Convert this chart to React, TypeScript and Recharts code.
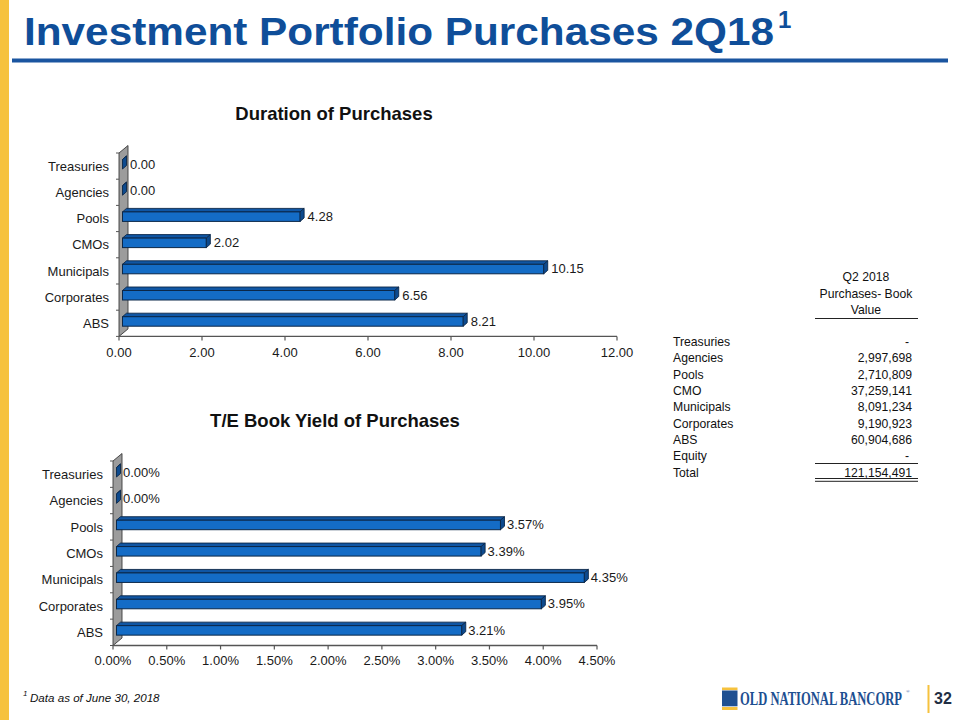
import React from 'react';
import { BarChart, Bar, XAxis, YAxis, LabelList } from 'recharts';

const categories = ['Treasuries', 'Agencies', 'Pools', 'CMOs', 'Municipals', 'Corporates', 'ABS'];
const durationValues = [0.0, 0.0, 4.28, 2.02, 10.15, 6.56, 8.21];
const yieldValues = [0.0, 0.0, 3.57, 3.39, 4.35, 3.95, 3.21];
const durationTicks = [0, 2, 4, 6, 8, 10, 12];
const yieldTicks = [0, 0.5, 1, 1.5, 2, 2.5, 3, 3.5, 4, 4.5];

const tableHeader = ['Q2 2018', 'Purchases- Book', 'Value'];
const tableLabels = ['Treasuries', 'Agencies', 'Pools', 'CMO', 'Municipals', 'Corporates', 'ABS', 'Equity'];
const tableValues = ['-', '2,997,698', '2,710,809', '37,259,141', '8,091,234', '9,190,923', '60,904,686', '-'];
const tableTotalLabel = 'Total';
const tableTotal = '121,154,491';

const durationData = categories.map((name, i) => ({ name, value: durationValues[i] }));
const yieldData = categories.map((name, i) => ({ name, value: yieldValues[i] }));

const FONT = '"Liberation Sans", Arial, Helvetica, sans-serif';
const SERIF = '"Liberation Serif", "Times New Roman", serif';
const FRONT = '#146CC6';
const TOP = '#1056A4';
const SIDE = '#0D4A8E';
const OUT = '#0B2748';
const TITLE_BLUE = '#0F4E99';
const YELLOW = '#F6C23E';

const DX = 4;
const DY = 3.5;

const Bar3D = (props: any) => {
  const { x, y, width, height } = props;
  const cy = y + height / 2;
  const fx = x + 3.5;
  const fy = cy - 6.5;
  const fh = 9.5;
  const w = Math.max(0, width || 0);
  return (
    <g>
      <polygon
        points={`${fx},${fy} ${fx + DX},${fy - DY} ${fx + w + DX},${fy - DY} ${fx + w},${fy}`}
        fill={TOP}
        stroke={OUT}
        strokeWidth={0.9}
      />
      <rect x={fx} y={fy} width={w} height={fh} fill={FRONT} stroke={OUT} strokeWidth={1} />
      <polygon
        points={`${fx + w},${fy} ${fx + w + DX},${fy - DY} ${fx + w + DX},${fy + fh - DY} ${fx + w},${fy + fh}`}
        fill={SIDE}
        stroke={OUT}
        strokeWidth={0.9}
      />
    </g>
  );
};

const makeLabel = (fmt: (v: number) => string, off: number) => (p: any) => {
  const { x, y, width, height, value } = p;
  return (
    <text
      x={x + width + off}
      y={y + height / 2 - 2 + 4.6}
      fontSize={13}
      fontFamily={FONT}
      fill="#1a1a1a"
      textAnchor="start"
    >
      {fmt(value)}
    </text>
  );
};

type ChartCfg = {
  data: { name: string; value: number }[];
  top: number;
  height: number;
  marginTop: number;
  marginLeft: number;
  marginRight: number;
  marginBottom: number;
  domain: [number, number];
  ticks: number[];
  fmt: (v: number) => string;
  labelOff: number;
  tickMargin: number;
};

const HBarChart = ({ cfg }: { cfg: ChartCfg }) => (
  <div style={{ position: 'absolute', left: 0, top: cfg.top, width: 640, height: cfg.height }}>
    <BarChart
      width={640}
      height={cfg.height}
      data={cfg.data}
      layout="vertical"
      margin={{ top: cfg.marginTop, left: cfg.marginLeft, right: cfg.marginRight, bottom: cfg.marginBottom }}
      barCategoryGap={0}
      style={{ background: 'transparent' }}
    >
      <XAxis
        type="number"
        domain={cfg.domain}
        ticks={cfg.ticks}
        interval={0}
        tickFormatter={cfg.fmt}
        height={30}
        axisLine={{ stroke: '#555', strokeWidth: 1.3 }}
        tickLine={{ stroke: '#555', strokeWidth: 1.2 }}
        tickSize={4}
        tickMargin={cfg.tickMargin}
        tick={{ fontSize: 13, fontFamily: FONT, fill: '#1a1a1a' }}
      />
      <YAxis
        type="category"
        dataKey="name"
        width={110}
        axisLine={false}
        tickLine={false}
        tickSize={0}
        tickMargin={10}
        interval={0}
        tick={{ fontSize: 13, fontFamily: FONT, fill: '#1a1a1a' }}
      />
      <Bar dataKey="value" barSize={10} shape={<Bar3D />} isAnimationActive={false}>
        <LabelList dataKey="value" content={makeLabel(cfg.fmt, cfg.labelOff) as any} />
      </Bar>
    </BarChart>
  </div>
);

// plot geometry (derived from the chart margins below)
const C1 = { left: 119, top: 153, width: 498, height: 183.4, n: categories.length };
const C2 = { left: 113, top: 461, width: 484, height: 184.5, n: categories.length };

const Wall = ({ g }: { g: typeof C1 }) => {
  const x0 = g.left;
  const yT = g.top;
  const yB = g.top + g.height;
  const wdx = 9;
  const wdy = 7.5;
  const band = g.height / g.n;
  const ticks = [];
  for (let i = 0; i <= g.n; i++) {
    const y = yT + i * band;
    ticks.push(<line key={i} x1={x0 - 3} x2={x0} y1={y} y2={y} stroke="#555" strokeWidth={1} />);
  }
  return (
    <g>
      <polygon
        points={`${x0},${yT} ${x0 + wdx},${yT - wdy} ${x0 + wdx},${yB - wdy} ${x0},${yB}`}
        fill="#9C9C9C"
        stroke="#3a3a3a"
        strokeWidth={0.9}
      />
      {ticks}
    </g>
  );
};

export default function App() {
  const cfg1: ChartCfg = {
    data: durationData,
    top: 90,
    height: 290,
    marginTop: C1.top - 90,
    marginLeft: C1.left - 110,
    marginRight: 640 - C1.left - C1.width,
    marginBottom: 290 - (C1.top - 90) - C1.height - 30,
    domain: [0, 12],
    ticks: durationTicks,
    fmt: (v: number) => v.toFixed(2),
    labelOff: 11,
    tickMargin: 7,
  };
  const cfg2: ChartCfg = {
    data: yieldData,
    top: 395,
    height: 285,
    marginTop: C2.top - 395,
    marginLeft: C2.left - 110,
    marginRight: 640 - C2.left - C2.width,
    marginBottom: 285 - (C2.top - 395) - C2.height - 30,
    domain: [0, 4.5],
    ticks: yieldTicks,
    fmt: (v: number) => v.toFixed(2) + '%',
    labelOff: 10,
    tickMargin: 6,
  };

  const rowY = (i: number) => 341.7 + i * 16.3;

  return (
    <div style={{ position: 'absolute', left: 0, top: 0, width: 960, height: 720, background: '#fff', overflow: 'hidden' }}>
      <svg width={960} height={720} style={{ position: 'absolute', left: 0, top: 0 }}>
        <rect x={0} y={0} width={9} height={720} fill={YELLOW} />
        <text
          x={24}
          y={45}
          fontSize={38}
          fontWeight="bold"
          fontFamily={FONT}
          fill={TITLE_BLUE}
          textLength={750}
          lengthAdjust="spacingAndGlyphs"
        >
          Investment Portfolio Purchases 2Q18
        </text>
        <text x={778} y={28} fontSize={24} fontWeight="bold" fontFamily={FONT} fill={TITLE_BLUE}>
          1
        </text>
        <rect x={12} y={58.5} width={936} height={4} fill="#1A55A0" />

        <text x={334} y={120} fontSize={18.5} fontWeight="bold" fontFamily={FONT} fill="#111" textAnchor="middle">
          Duration of Purchases
        </text>
        <text x={335} y={427} fontSize={18.5} fontWeight="bold" fontFamily={FONT} fill="#111" textAnchor="middle">
          T/E Book Yield of Purchases
        </text>

        <Wall g={C1} />
        <Wall g={C2} />

        {tableHeader.map((t, i) => (
          <text key={t} x={866} y={277 + i * 16.5 + 4.4} fontSize={12.2} fontFamily={FONT} fill="#111" textAnchor="middle">
            {t}
          </text>
        ))}
        <line x1={815} x2={918} y1={318.5} y2={318.5} stroke="#222" strokeWidth={1.2} />
        {tableLabels.map((t, i) => (
          <g key={t}>
            <text x={673} y={rowY(i) + 4.4} fontSize={12.2} fontFamily={FONT} fill="#111">
              {t}
            </text>
            <text
              x={tableValues[i] === '-' ? 909 : 912}
              y={rowY(i) + 4.4}
              fontSize={12.2}
              fontFamily={FONT}
              fill="#111"
              textAnchor="end"
            >
              {tableValues[i]}
            </text>
          </g>
        ))}
        <line x1={815} x2={918} y1={463.5} y2={463.5} stroke="#222" strokeWidth={1} />
        <text x={673} y={rowY(8) + 4.4} fontSize={12.2} fontFamily={FONT} fill="#111">
          {tableTotalLabel}
        </text>
        <text x={912} y={rowY(8) + 4.4} fontSize={12.2} fontFamily={FONT} fill="#111" textAnchor="end">
          {tableTotal}
        </text>
        <line x1={815} x2={918} y1={478.5} y2={478.5} stroke="#222" strokeWidth={1} />
        <line x1={815} x2={918} y1={481.3} y2={481.3} stroke="#222" strokeWidth={1} />

        <text x={23} y={696} fontSize={8} fontStyle="italic" fontFamily={FONT} fill="#111">
          1
        </text>
        <text x={30} y={702} fontSize={11.6} fontStyle="italic" fontFamily={FONT} fill="#111">
          Data as of June 30, 2018
        </text>

        <rect x={722} y={687.5} width={15.5} height={2.6} fill={YELLOW} />
        <rect x={722} y={690.5} width={15.5} height={15.8} fill="#1E4F91" />
        <rect x={722} y={707} width={15.5} height={3} fill={YELLOW} />
        <g transform="translate(740,705) scale(0.7,1)">
          <text x={0} y={0} fontSize={18} fontWeight="bold" fontFamily={SERIF} fill="#1E4F91">
            OLD NATIONAL BANCORP
          </text>
        </g>
        <text x={906} y={693} fontSize={5} fontFamily={SERIF} fill="#1E4F91">
          ®
        </text>
        <rect x={927.5} y={685} width={2} height={28} fill={YELLOW} />
        <text x={934} y={704} fontSize={16} fontWeight="bold" fontFamily={FONT} fill="#1F2E44">
          32
        </text>
      </svg>
      <HBarChart cfg={cfg1} />
      <HBarChart cfg={cfg2} />
    </div>
  );
}
